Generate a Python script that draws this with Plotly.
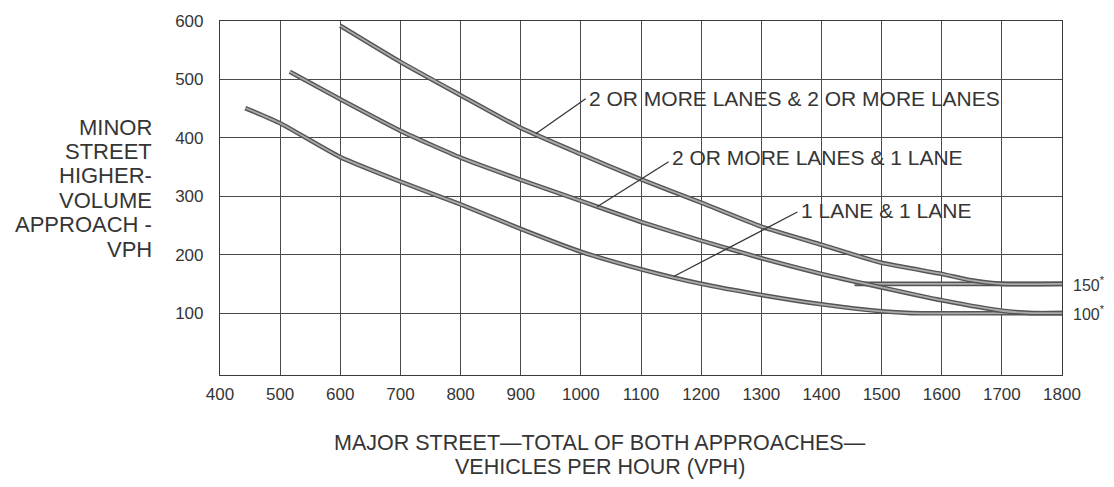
import plotly.graph_objects as go

# ---- data ----
major_ticks = [400, 500, 600, 700, 800, 900, 1000, 1100, 1200, 1300, 1400, 1500, 1600, 1700, 1800]
minor_ticks = [100, 200, 300, 400, 500, 600]

two_two_x = [600, 700, 800, 900, 1000, 1100, 1200, 1300, 1400, 1500, 1600, 1650, 1700, 1800]
two_two_y = [592, 530, 473, 417, 372, 329, 289, 248, 217, 186, 167, 156, 150, 150]

two_one_x = [516, 600, 700, 800, 900, 1000, 1100, 1200, 1300, 1400, 1500, 1600, 1700, 1750, 1800]
two_one_y = [513, 466, 412, 366, 328, 292, 256, 224, 194, 167, 144, 122, 104, 100, 100]

one_one_x = [442, 500, 600, 700, 800, 900, 1000, 1100, 1200, 1300, 1400, 1500, 1550, 1800]
one_one_y = [451, 425, 367, 325, 286, 244, 205, 175, 150, 131, 115, 103, 100, 100]

thr150_x = [1455, 1800]
thr150_y = [150, 150]

curve_labels = ["2 OR MORE LANES & 2 OR MORE LANES", "2 OR MORE LANES & 1 LANE", "1 LANE & 1 LANE"]
y_title_lines = ["MINOR", "STREET", "HIGHER-", "VOLUME", "APPROACH -", "VPH"]
x_title_lines = ["MAJOR STREET\u2014TOTAL OF BOTH APPROACHES\u2014", "VEHICLES PER HOUR (VPH)"]

FONT = "Liberation Sans, Arial, Helvetica, sans-serif"
INK = "#353535"
W, H = 1114, 487
ML, MR, MT, MB = 220, 52, 13, 112

fig = go.Figure()

def add_curve(xs, ys):
    fig.add_trace(go.Scatter(x=xs, y=ys, mode="lines", showlegend=False, hoverinfo="skip",
                             line=dict(color="#555555", width=4.6, shape="spline", smoothing=0.5)))
    fig.add_trace(go.Scatter(x=xs, y=ys, mode="lines", showlegend=False, hoverinfo="skip",
                             line=dict(color="#ababab", width=1.8, shape="spline", smoothing=0.5)))

add_curve(thr150_x, thr150_y)
add_curve(one_one_x, one_one_y)
add_curve(two_one_x, two_one_y)
add_curve(two_two_x, two_two_y)

# leader lines (label -> curve)
leaders = [((1008, 467), (925, 407)), ((1146, 359), (1027, 282)), ((1360, 273), (1155, 163))]
for (x0, y0), (x1, y1) in leaders:
    fig.add_shape(type="line", xref="x", yref="y", x0=x0, y0=y0, x1=x1, y1=y1,
                  line=dict(color=INK, width=1.3), layer="above")

label_pos = [(1010, 467), (1148, 367), (1362, 275)]
for txt, (lx, ly) in zip(curve_labels, label_pos):
    fig.add_annotation(x=lx, y=ly, xref="x", yref="y", text=txt, showarrow=False,
                       xanchor="left", yanchor="middle", font=dict(family=FONT, size=21, color=INK))

# right side threshold labels
for val in [150, 100]:
    fig.add_annotation(x=1, xref="paper", y=val, yref="y", xshift=9, xanchor="left", yanchor="middle",
                       text=f"{val}<sup>*</sup>", showarrow=False,
                       font=dict(family=FONT, size=16, color=INK))

def paper_y(py):
    return (H - MB - py) / (H - MB - MT)

def paper_x(px):
    return (px - ML) / (W - ML - MR)

# y title, right aligned block
y_line_px = [122, 146.5, 171.5, 196.5, 221.5, 247]
for txt, py in zip(y_title_lines, y_line_px):
    fig.add_annotation(x=paper_x(154), xref="paper", y=paper_y(py), yref="paper", text=txt,
                       showarrow=False, xanchor="right", yanchor="middle",
                       font=dict(family=FONT, size=22, color=INK))

x_line_px = [445, 469]
for txt, py in zip(x_title_lines, x_line_px):
    fig.add_annotation(x=paper_x(600), xref="paper", y=paper_y(py), yref="paper", text=txt,
                       showarrow=False, xanchor="center", yanchor="middle",
                       font=dict(family=FONT, size=21.5, color=INK))

fig.update_xaxes(range=[400, 1800], tickvals=major_ticks, ticktext=[str(v) for v in major_ticks],
                 showgrid=True, gridcolor="#4a4a4a", gridwidth=1, zeroline=False,
                 showline=True, mirror=True, linecolor="#3a3a3a", linewidth=1.2,
                 ticks="", ticklabelstandoff=3, tickfont=dict(family=FONT, size=17, color=INK))
fig.update_yaxes(range=[-6, 600], tickvals=minor_ticks, ticktext=[str(v) for v in minor_ticks],
                 showgrid=True, gridcolor="#4a4a4a", gridwidth=1, zeroline=False,
                 showline=True, mirror=True, linecolor="#3a3a3a", linewidth=1.2,
                 ticks="", ticklabelstandoff=12, tickfont=dict(family=FONT, size=17, color=INK))

fig.update_layout(width=W, height=H, margin=dict(l=ML, r=MR, t=MT, b=MB),
                  paper_bgcolor="white", plot_bgcolor="white", showlegend=False)

fig.write_html("out.html", config={"displayModeBar": False})

# remove the default page margin so the figure sits at the window's top-left corner
with open("out.html", "r", encoding="utf-8") as f:
    html = f.read()
html = html.replace("<head>", "<head><style>html,body{margin:0;padding:0;overflow:hidden;}</style>", 1)
with open("out.html", "w", encoding="utf-8") as f:
    f.write(html)
